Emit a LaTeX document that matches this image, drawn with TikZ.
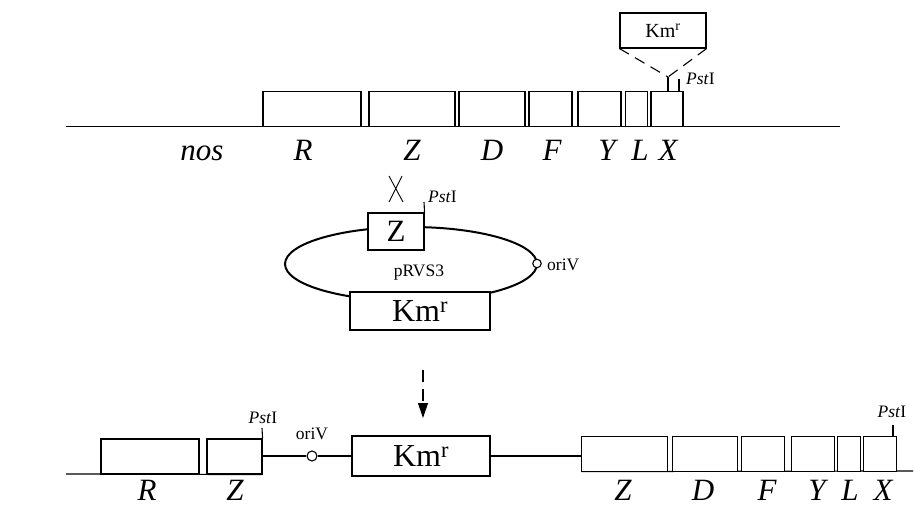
\documentclass[tikz,border=0pt]{standalone}
\usepackage{fontspec}
\setmainfont{Liberation Serif}
\usetikzlibrary{arrows.meta,shapes.geometric}
\tikzset{
  gbox/.style={draw, fill=white, line width=1.1pt, inner sep=0pt, rectangle},
  gene/.style={font=\fontsize{31}{31}\selectfont\itshape, anchor=base, inner sep=0pt},
  small/.style={font=\fontsize{17.5}{18}\selectfont, inner sep=0pt},
  dna/.style={line width=1.2pt},
  thickdna/.style={line width=2pt},
  tick/.style={line width=1.1pt},
  ins/.style={line width=1.1pt, dash pattern=on 11pt off 7pt},
}
\newcommand\gb[6]{\node[gbox, minimum width={(#4)-(#2)}, minimum height={(#5)-(#3)}] (#1) at ({((#2)+(#4))/2},{((#3)+(#5))/2}) {#6};}
\newcommand\kmr{Km\textsuperscript{r}}
\newcommand\pst{\textit{Pst}I}
\begin{document}
\begin{tikzpicture}[x=1pt,y=-1pt]
\useasboundingbox (0,0) rectangle (914,506);
% ---------- top row ----------
\coordinate (tl) at (66,126.5);
\coordinate (tr) at (840,126.5);
\draw[dna] (tl) -- (tr);
\gb{tR}{263}{91.5}{361}{126.5}{}
\gb{tZ}{369}{91.5}{455}{126.5}{}
\gb{tD}{459}{91.5}{525}{126.5}{}
\gb{tF}{529}{91.5}{572}{126.5}{}
\gb{tY}{578}{91.5}{621}{126.5}{}
\gb{tL}{625.5}{91.5}{647.5}{126.5}{}
\gb{tX}{651}{91.5}{683}{126.5}{}
\node[gene] (lnos) at (202,160) {nos};
\node[gene] (ltR) at (303,160) {R};
\node[gene] (ltZ) at (412,160) {Z};
\node[gene] (ltD) at (492,160) {D};
\node[gene] (ltF) at (552,160) {F};
\node[gene] (ltY) at (607,160) {Y};
\node[gene] (ltL) at (640,160) {L};
\node[gene] (ltX) at (668,160) {X};
% insertion of Km cassette
\node[gbox, minimum width=86, minimum height=35, font=\fontsize{20}{20}\selectfont] (tK) at (663,30.5) {\kmr};
\coordinate (j) at (668,77);
\coordinate (jb) at (668,91.5);
\draw[ins] (tK.south west) -- (j);
\draw[ins] (tK.south east) -- (j);
\draw[tick] (j) -- (jb);
\coordinate (tp1) at (679,79);
\coordinate (tp2) at (679,91.5);
\draw[tick] (tp1) -- (tp2);
\node[small, anchor=base west] (tpst) at (686,84) {\pst};
% ---------- plasmid ----------
\node[draw, ellipse, line width=2pt, minimum width=252, minimum height=74, inner sep=0pt] (pl) at (411,264) {};
\node[small, anchor=base] (pname) at (419,276) {pRVS3};
\gb{pZ}{368}{213}{424}{250}{\fontsize{31}{31}\selectfont Z}
\gb{pK}{350}{292}{490}{330}{\fontsize{32}{32}\selectfont\kmr}
\node[draw, circle, fill=white, line width=1.1pt, minimum size=8.5, inner sep=0pt] (pori) at (537,263.5) {};
\node[small, anchor=west] (porilab) at (547,265) {oriV};
\coordinate (pp1) at (424,202);
\draw[tick] (pp1) -- (pZ.north east);
\node[small, anchor=base west] (ppst) at (428,202) {\pst};
\coordinate (x1) at (389,176);
\coordinate (x2) at (403,202);
\coordinate (x3) at (402,176);
\coordinate (x4) at (389,202);
\draw[line width=0.9pt] (x1) -- (x2);
\draw[line width=0.9pt] (x3) -- (x4);
% ---------- arrow ----------
\coordinate (a1) at (423,370);
\coordinate (a2) at (423,418);
\draw[line width=1.1pt, dash pattern=on 12pt off 7pt, -{Triangle[length=15pt,width=10pt]}] (a1) -- (a2);
% ---------- bottom row ----------
\coordinate (bl) at (66,474);
\gb{bR}{101}{439}{199}{474}{}
\gb{bZ}{207}{439}{262}{474}{}
\draw[dna] (bl) -- (bZ.south east);
\coordinate (bp1) at (262,428);
\draw[tick] (bp1) -- (bZ.north east);
\node[small, anchor=base] (bpst) at (263,423) {\pst};
\gb{bK}{352}{436}{490}{476}{\fontsize{32}{32}\selectfont\kmr}
\node[draw, circle, fill=white, line width=1.1pt, minimum size=10, inner sep=0pt] (bori) at (312,456) {};
\node[small, anchor=base] (borilab) at (312,439) {oriV};
\coordinate (bz1) at (262,456);
\draw[dna] (bz1) -- (bori);
\draw[thickdna] (bori) -- (bK.west);
\gb{bZ2}{582}{437}{667}{471}{}
\gb{bD}{673}{437}{737}{471}{}
\gb{bF}{742}{437}{784}{471}{}
\gb{bY}{792}{437}{834}{471}{}
\gb{bL}{838}{437}{860}{471}{}
\gb{bX}{864}{437}{896}{471}{}
\draw[thickdna] (bK.east) -- (bK.east -| bZ2.west);
\coordinate (br) at (913,471);
\draw[dna] (bZ2.south west) -- (br);
\foreach \b in {bZ2,bD,bF,bY,bL,bX} {\draw[gbox] (\b.south west) rectangle (\b.north east);}
\coordinate (bq1) at (893,425);
\coordinate (bq2) at (893,437);
\draw[tick] (bq1) -- (bq2);
\node[small, anchor=base] (bqst) at (892,417) {\pst};
\node[gene] (lbR) at (147,500) {R};
\node[gene] (lbZ) at (235,500) {Z};
\node[gene] (lbZ2) at (623,500) {Z};
\node[gene] (lbD) at (703,500) {D};
\node[gene] (lbF) at (767,500) {F};
\node[gene] (lbY) at (817,500) {Y};
\node[gene] (lbL) at (850,500) {L};
\node[gene] (lbX) at (883,500) {X};
\end{tikzpicture}
\end{document}
